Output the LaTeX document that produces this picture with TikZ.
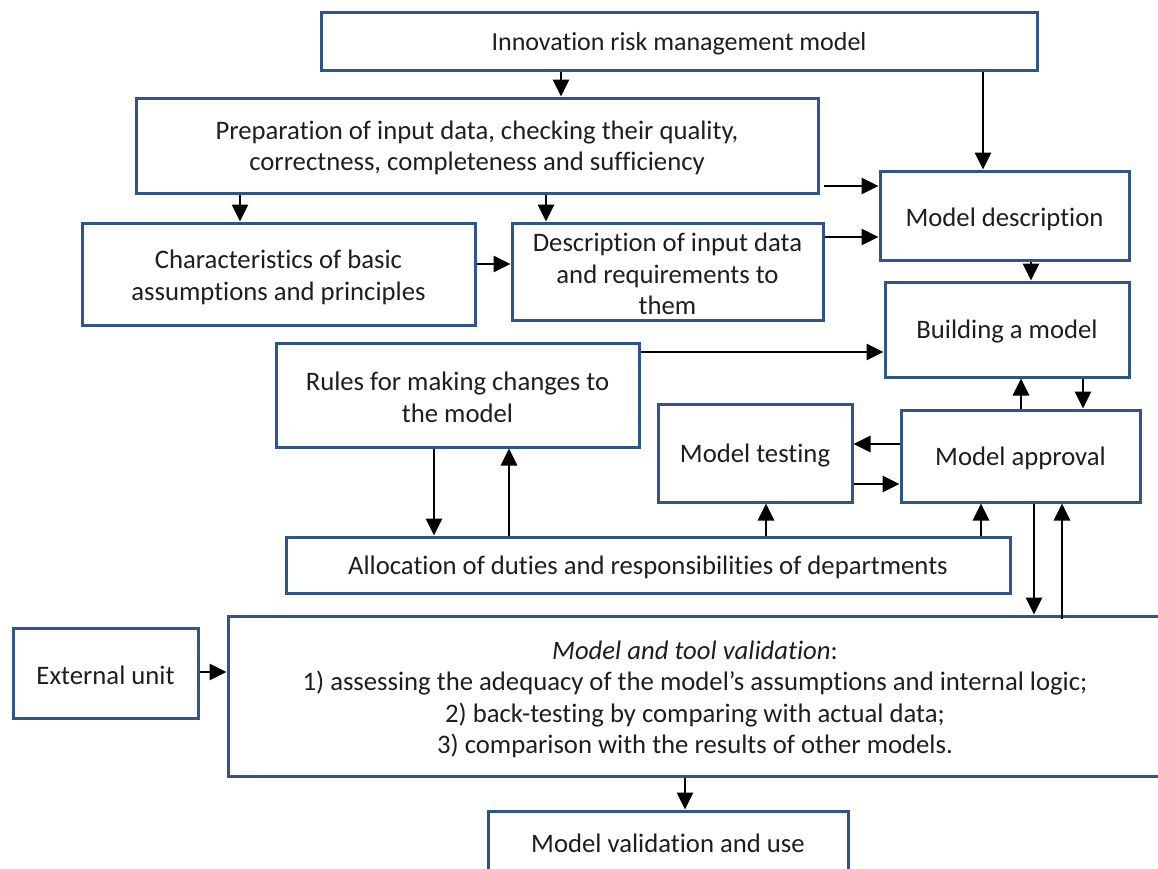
\documentclass[tikz,border=0pt]{standalone}
\usepackage{fontspec}
\setmainfont{Carlito}[Ligatures=NoCommon]
\usetikzlibrary{arrows.meta}
\definecolor{boxblue}{RGB}{47,85,141}
\definecolor{txt}{RGB}{30,30,30}
\tikzset{
  box/.style={draw=boxblue, line width=3pt, fill=white, inner sep=2pt},
  lbl/.style={align=center, text=txt, inner sep=0pt, font=\fontsize{26.7}{31.5}\selectfont, yshift=-2.5pt},
  arr/.style={line width=2.8pt, -{Triangle[length=17pt,width=16pt]}},
}
\begin{document}
\begin{tikzpicture}[x=1pt,y=-1pt]
\useasboundingbox (0,0) rectangle (1158,868);
\clip (0,0) rectangle (1158,868);
\node[box, minimum width=716pt, minimum height=58pt, label={[lbl,font=\fontsize{26}{31}\selectfont]center:Innovation risk management model}] (title) at (679,41) {};
\node[box, minimum width=682pt, minimum height=95pt, label={[lbl]center:Preparation of input data, checking their quality,\\correctness, completeness and sufficiency}] (prep) at (477,145.5) {};
\node[box, minimum width=393pt, minimum height=102pt, label={[lbl,yshift=-1pt]center:Characteristics of basic\\assumptions and principles}] (char) at (278.5,274) {};
\node[box, minimum width=311pt, minimum height=97pt, label={[lbl]center:Description of input data\\and requirements to\\them}] (desc) at (667.5,271.5) {};
\node[box, minimum width=249pt, minimum height=89pt, label={[lbl,yshift=-1pt]center:Model description}] (mdesc) at (1004.5,215.5) {};
\node[box, minimum width=244pt, minimum height=95pt, label={[lbl]center:Building a model}] (build) at (1007,329.5) {};
\node[box, minimum width=363pt, minimum height=104pt, label={[lbl]center:Rules for making changes to\\the model}] (rules) at (457.5,395) {};
\node[box, minimum width=194pt, minimum height=98pt, label={[lbl]center:Model testing}] (test) at (755,453) {};
\node[box, minimum width=239pt, minimum height=92pt, label={[lbl]center:Model approval}] (appr) at (1020.5,456) {};
\node[box, minimum width=724pt, minimum height=56pt, label={[lbl]center:Allocation of duties and responsibilities of departments}] (alloc) at (648,565) {};
\node[box, minimum width=185pt, minimum height=90pt, label={[lbl]center:External unit}] (ext) at (105.5,673) {};
\node[box, minimum width=934pt, minimum height=160pt, label={[lbl,yshift=-1pt]center:\textit{Model and tool validation}:\\1) assessing the adequacy of the model’s assumptions and internal logic;\\2) back-testing by comparing with actual data;\\3) comparison with the results of other models.}] (valid) at (695,696) {};
\node[box, minimum width=360pt, minimum height=60pt, label={[lbl]center:Model validation and use}] (use) at (668,841) {};
% arrows
\draw[arr] (title.south -| 561,0) -- (prep.north -| 561,0);
\draw[arr] (title.south -| 983,0) -- (mdesc.north -| 983,0);
\draw[arr] (prep.south -| 240,0) -- (char.north -| 240,0);
\draw[arr] (prep.south -| 546,0) -- (desc.north -| 546,0);
\draw[arr] (prep.east |- 0,186) ++(4,0) -- (mdesc.west |- 0,186);
\draw[arr] (char.east |- 0,264) -- (desc.west |- 0,264);
\draw[arr] (desc.east |- 0,237) -- (mdesc.west |- 0,237);
\draw[arr] (mdesc.south -| 1031,0) -- (build.north -| 1031,0);
\draw[arr] (rules.east |- 0,352) -- (build.west |- 0,352);
\draw[arr] (appr.north -| 1021,0) -- (build.south -| 1021,0);
\draw[arr] (build.south -| 1083,0) -- (appr.north -| 1083,0);
\draw[arr] (appr.west |- 0,444) -- (test.east |- 0,444);
\draw[arr] (test.east |- 0,484) -- (appr.west |- 0,484);
\draw[arr] (alloc.north -| 766,0) -- (test.south -| 766,0);
\draw[arr] (alloc.north -| 981,0) -- (appr.south -| 981,0);
\draw[arr] (rules.south -| 434,0) -- (alloc.north -| 434,0);
\draw[arr] (alloc.north -| 509,0) -- (rules.south -| 509,0);
\draw[arr] (appr.south -| 1034,0) -- (valid.north -| 1034,0);
\draw[arr] (valid.north -| 1062,0) ++(0,4) -- (appr.south -| 1062,0);
\draw[arr] (ext.east |- 0,672) -- (valid.west |- 0,672);
\draw[arr] (valid.south -| 685,0) -- (use.north -| 685,0);
\end{tikzpicture}
\end{document}
